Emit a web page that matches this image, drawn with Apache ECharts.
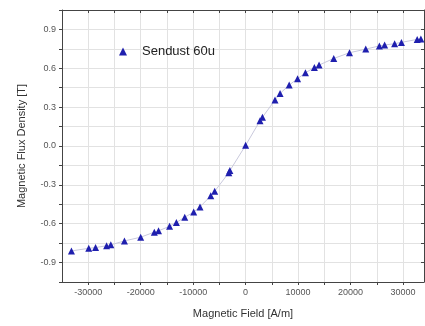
<!DOCTYPE html>
<html>
<head>
<meta charset="utf-8">
<script src="https://cdn.jsdelivr.net/npm/echarts@6/dist/echarts.min.js"></script>
<style>
  html, body { margin: 0; padding: 0; background: #fff; }
  #chart { width: 425px; height: 326px; }
</style>
</head>
<body>
<div id="chart"></div>
<script>
// B-H curve, Sendust 60u
const fieldValues = [-33200, -29900, -28600, -26500, -25700, -23100, -20000, -17400, -16600, -14500,
  -13200, -11600, -9900, -8700, -6650, -5900, -3200, -3000, 0, 2740, 3200, 5600, 6570, 8300, 9900,
  11400, 13100, 14000, 16800, 19800, 22900, 25500, 26500, 28400, 29700, 32700, 33400];
const fluxValues = [-0.81, -0.79, -0.784, -0.77, -0.763, -0.733, -0.704, -0.665, -0.655, -0.62,
  -0.59, -0.55, -0.51, -0.47, -0.385, -0.35, -0.206, -0.19, 0.005, 0.195, 0.222, 0.355, 0.406, 0.47, 0.52,
  0.565, 0.607, 0.625, 0.676, 0.72, 0.748, 0.773, 0.78, 0.79, 0.80, 0.823, 0.826];
const seriesName = 'Sendust 60u';
const xTitle = 'Magnetic Field [A/m]';
const yTitle = 'Magnetic Flux Density [T]';

const points = fieldValues.map((v, i) => [v, fluxValues[i]]);
const fontFam = 'Liberation Sans';
const axisCol = '#444';

const chart = echarts.init(document.getElementById('chart'));

chart.setOption({
  animation: false,
  textStyle: { fontFamily: fontFam },
  grid: { left: 62, top: 10, right: 1, bottom: 44 },
  legend: {
    left: 114, top: 40,
    icon: 'triangle',
    itemWidth: 8, itemHeight: 8,
    itemGap: 4,
    textStyle: { fontSize: 13, color: '#222', fontFamily: fontFam, padding: [0, 0, 0, 10] },
    data: [seriesName]
  },
  xAxis: [{
    type: 'value',
    min: -35000, max: 34000, interval: 5000,
    name: xTitle, nameLocation: 'middle', nameGap: 26,
    nameTextStyle: { fontSize: 11, color: '#333' },
    axisLine: { show: true, onZero: false, lineStyle: { color: axisCol } },
    axisTick: { show: true, length: 3, lineStyle: { color: axisCol } },
    axisLabel: {
      fontSize: 9, color: '#555', margin: 6,
      showMinLabel: false, showMaxLabel: false,
      formatter: (v) => (v % 10000 === 0 ? String(v) : '')
    },
    splitLine: { show: true, lineStyle: { color: '#e2e2e2', width: 1 } }
  }, {
    type: 'value', position: 'top',
    min: -35000, max: 34000, interval: 5000,
    axisLine: { show: true, onZero: false, lineStyle: { color: axisCol } },
    axisTick: { show: true, inside: true, length: 3, lineStyle: { color: axisCol } },
    axisLabel: { show: false },
    splitLine: { show: false }
  }],
  yAxis: [{
    type: 'value',
    min: -1.05, max: 1.05, interval: 0.15,
    name: yTitle, nameLocation: 'middle', nameGap: 35,
    nameTextStyle: { fontSize: 11, color: '#333' },
    axisLine: { show: true, onZero: false, lineStyle: { color: axisCol } },
    axisTick: { show: true, length: 3, lineStyle: { color: axisCol } },
    axisLabel: {
      fontSize: 9, color: '#555', margin: 6,
      formatter: (v) => (Math.round(v / 0.15) % 2 === 0 ? v.toFixed(1) : '')
    },
    splitLine: { show: true, lineStyle: { color: '#e2e2e2', width: 1 } }
  }, {
    type: 'value', position: 'right',
    min: -1.05, max: 1.05, interval: 0.15,
    axisLine: { show: true, onZero: false, lineStyle: { color: axisCol } },
    axisTick: { show: true, inside: true, length: 3, lineStyle: { color: axisCol } },
    axisLabel: { show: false },
    splitLine: { show: false }
  }],
  series: [{
    name: seriesName,
    type: 'line',
    data: points,
    symbol: 'triangle',
    symbolSize: 7,
    itemStyle: { color: '#1f1fae' },
    lineStyle: { color: '#c9c9dc', width: 1 }
  }]
});
</script>
</body>
</html>
